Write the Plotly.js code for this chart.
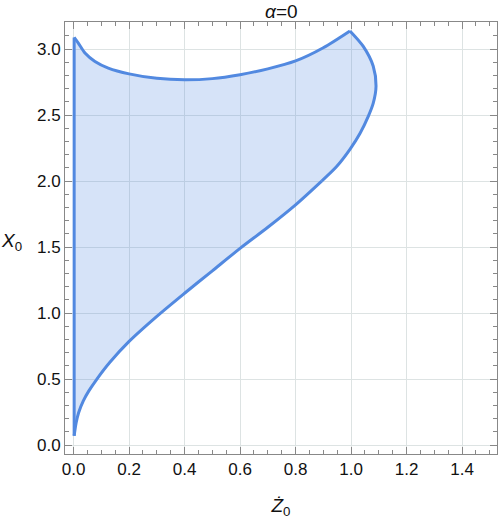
<!DOCTYPE html>
<html>
<head>
<meta charset="utf-8">
<script src="https://cdn.plot.ly/plotly-3.0.1.min.js"></script>
<style>
  html, body { margin: 0; padding: 0; background: #fff; }
  #chart { width: 498px; height: 519px; }
</style>
</head>
<body>
<div id="chart"></div>
<script>
// left edge (x = 0), bottom to top
const leftX = [0.002, 0.002];
const leftY = [0.07, 3.088];

// upper boundary, left to right (starts at left cusp)
const topX = [0.002, 0.017, 0.041, 0.077, 0.125, 0.2, 0.3, 0.4, 0.5, 0.6, 0.7, 0.8, 0.9, 0.996];
const topY = [3.088, 3.045, 2.97, 2.906, 2.856, 2.812, 2.778, 2.767, 2.776, 2.806, 2.85, 2.91, 3.01, 3.137];

// right boundary, top to bottom (starts at upper-right cusp)
const rightX = [0.996, 1.044, 1.08, 1.09, 1.08, 1.062, 1.032, 0.996, 0.948, 0.894];
const rightY = [3.137, 3.02, 2.87, 2.72, 2.59, 2.49, 2.36, 2.24, 2.11, 2.0];

// lower boundary, top to bottom
const lowerX = [0.894, 0.8, 0.7, 0.6, 0.5, 0.4, 0.3, 0.2, 0.13, 0.084, 0.055, 0.035, 0.018, 0.009, 0.002];
const lowerY = [2.0, 1.82, 1.65, 1.49, 1.32, 1.15, 0.975, 0.785, 0.625, 0.5, 0.41, 0.335, 0.245, 0.167, 0.07];

const lineBlue = "#5289e0";
const fillBlue = "rgba(82,137,224,0.24)";
const font = "Liberation Sans, Arial, sans-serif";

function edge(x, y) {
  return {
    type: "scatter",
    mode: "lines",
    x: x,
    y: y,
    line: { color: lineBlue, width: 3, shape: "spline", smoothing: 0.8 },
    hoverinfo: "skip"
  };
}

const region = {
  type: "scatter",
  mode: "none",
  x: [...leftX, ...topX.slice(1), ...rightX.slice(1), ...lowerX.slice(1)],
  y: [...leftY, ...topY.slice(1), ...rightY.slice(1), ...lowerY.slice(1)],
  fill: "toself",
  fillcolor: fillBlue,
  hoverinfo: "skip"
};

const axisCommon = {
  showline: true,
  linecolor: "#888",
  linewidth: 1,
  mirror: "allticks",
  ticks: "inside",
  ticklen: 7,
  tickcolor: "#888",
  showgrid: true,
  gridcolor: "#dde3e3",
  gridwidth: 1,
  zeroline: false,
  tickformat: ".1f",
  tickfont: { family: font, size: 17, color: "#111" }
};

Plotly.newPlot(
  "chart",
  [region, edge(leftX, leftY), edge(topX, topY), edge(rightX, rightY), edge(lowerX, lowerY)],
  {
    width: 498,
    height: 519,
    paper_bgcolor: "#fff",
    plot_bgcolor: "#fff",
    margin: { l: 65, r: 1, t: 22, b: 65 },
    showlegend: false,
    title: {
      text: "<i>α</i>=0",
      font: { family: font, size: 19, color: "#111" },
      x: 0.565,
      xanchor: "center",
      y: 0.978,
      yanchor: "middle"
    },
    xaxis: {
      ...axisCommon,
      range: [-0.031, 1.526],
      tick0: 0,
      dtick: 0.2,
      minor: { ticks: "inside", dtick: 0.05, ticklen: 4, tickcolor: "#888", showgrid: false },
      title: { text: "<i>Ż</i><sub>0</sub>", font: { family: font, size: 19, color: "#111" }, standoff: 20 }
    },
    yaxis: {
      ...axisCommon,
      range: [-0.068, 3.205],
      tick0: 0,
      dtick: 0.5,
      minor: { ticks: "inside", dtick: 0.1, ticklen: 4, tickcolor: "#888", showgrid: false }
    },
    annotations: [
      {
        text: "<i>X</i><sub>0</sub>",
        xref: "paper",
        yref: "paper",
        x: -0.125,
        y: 0.49,
        xanchor: "center",
        yanchor: "middle",
        showarrow: false,
        font: { family: font, size: 19, color: "#111" }
      }
    ]
  },
  { displayModeBar: false, staticPlot: true }
);
</script>
</body>
</html>
